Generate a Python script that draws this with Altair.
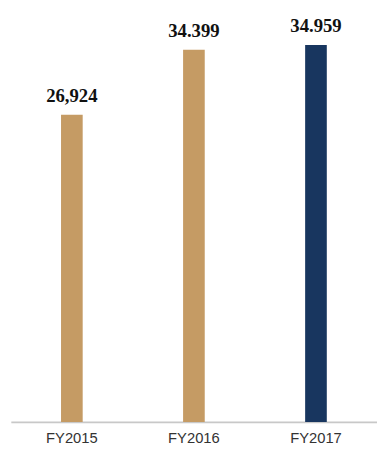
import altair as alt
import pandas as pd

years = ["FY2015", "FY2016", "FY2017"]
values = [26.924, 34.399, 34.959]
labels = ["26,924", "34.399", "34.959"]
colors = ["#C59B64", "#C59B64", "#18365F"]

Y_MIN, Y_MAX = -8.39, 37.45

df = pd.DataFrame({"year": years, "value": values, "label": labels, "color": colors})

x = alt.X("year:N", sort=years, title=None,
          scale=alt.Scale(paddingInner=0, paddingOuter=0),
          axis=alt.Axis(labelAngle=0, ticks=False, domainColor="#c8c8c8", domainWidth=2,
                        labelFont="Liberation Sans", labelFontSize=15, labelColor="#333333",
                        labelPadding=9, grid=False))
yscale = alt.Scale(domain=[Y_MIN, Y_MAX], nice=False, zero=False)

base = alt.Chart(df)
bars = base.mark_bar(size=22).encode(
    x=x,
    y=alt.Y("value:Q", scale=yscale, axis=None, title=None),
    y2=alt.datum(Y_MIN),
    color=alt.Color("color:N", scale=None),
)
text = base.mark_text(dy=-9, baseline="bottom", font="Liberation Serif", fontWeight="bold",
                      fontSize=19, color="#111111").encode(
    x=alt.X("year:N", sort=years),
    y=alt.Y("value:Q", scale=yscale),
    text="label:N",
)

chart = (bars + text).properties(
    width=372, height=405,
    autosize=alt.AutoSizeParams(type="none"),
    padding={"left": 11, "top": 20, "right": 0, "bottom": 27},
).configure_view(stroke=None)

chart.save("out.html", embed_options={"renderer": "svg", "actions": False})
